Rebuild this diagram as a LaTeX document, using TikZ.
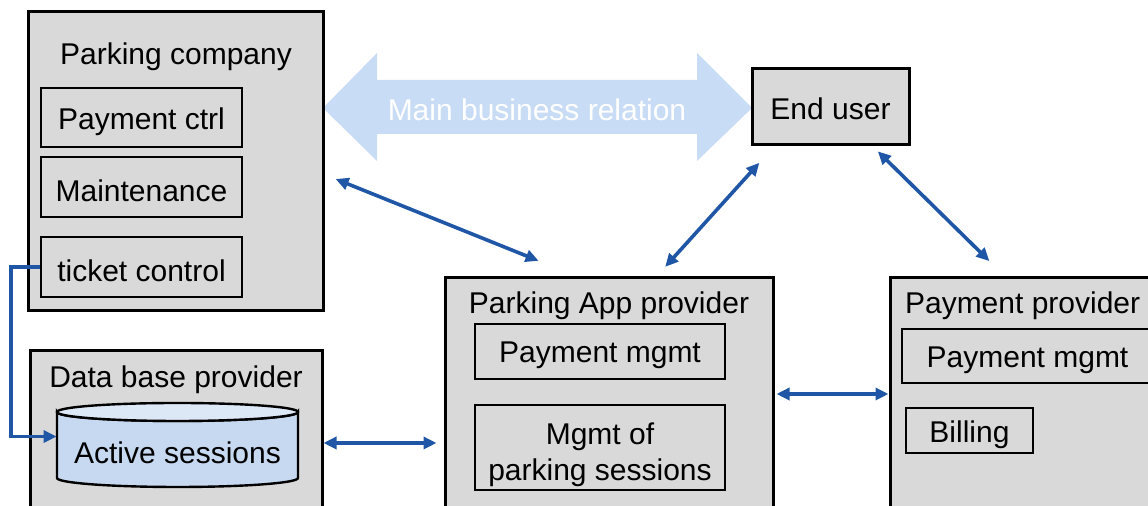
\documentclass[tikz,border=0pt]{standalone}
\usepackage{fontspec}
\setmainfont{Liberation Sans}
\usepackage{tikz}
\usetikzlibrary{arrows.meta,fit}

\definecolor{boxgray}{HTML}{D9D9D9}
\definecolor{linkblue}{HTML}{1F56A6}
\definecolor{relblue}{HTML}{C9DCF5}
\definecolor{cylbody}{HTML}{C6D9F1}
\definecolor{cyltop}{HTML}{DDE8F7}

\tikzset{
  mainbox/.style={draw=black, line width=1.5pt, fill=boxgray, inner sep=0pt},
  subbox/.style={draw=black, line width=1.2pt, fill=boxgray, inner sep=0pt},
  link/.style={draw=linkblue, line width=1.8pt, arrows={Triangle[length=6.5pt,width=6pt]-Triangle[length=6.5pt,width=6pt]}},
}

\begin{document}
\begin{tikzpicture}[x=0.5pt, y=-0.5pt, font=\fontsize{15}{18}\selectfont]
	\useasboundingbox (0,0) rectangle (1148,506);

	% main business relation
	\fill[relblue] (323,108) -- (377,53) -- (377,80) -- (697,80) -- (697,53) -- (752,108)
		-- (697,161) -- (697,134) -- (377,134) -- (377,161) -- cycle;
	\node[white] (rel) at (537,110) {Main business relation};

	% parking company
	\node[mainbox, fit={(28,12) (323,311)}] (pc) {};
	\node (pctitle) at (176,57) {Parking company};
	\node[subbox, fit={(41,88) (242,147)}] (payctrl) {};
	\node at ([yshift=-2pt]payctrl.center) {Payment ctrl};
	\node[subbox, fit={(41,157) (242,217)}] (maint) {};
	\node at ([yshift=-2pt]maint.center) {Maintenance};
	\node[subbox, fit={(41,237) (242,297)}] (ticket) {};
	\node at ([yshift=-2pt]ticket.center) {ticket control};

	% end user
	\node[mainbox, fit={(752,69) (909,145)}] (eu) {};
	\node at ([yshift=-1pt]eu.center) {End user};

	% data base provider
	\node[mainbox, fit={(30,351) (322,535)}] (db) {};
	\node (dbtitle) at (176,380) {Data base provider};
	\filldraw[fill=cylbody, line width=1.2pt] (57,412) -- (57,478)
		arc[start angle=180, end angle=0, x radius=120.5, y radius=9] -- (298,412)
		arc[start angle=0, end angle=180, x radius=120.5, y radius=9] -- cycle;
	\filldraw[fill=cyltop, line width=1.2pt] (177.5,412) ellipse[x radius=120.5, y radius=9];
	\node[inner sep=0pt, fit={(57,403) (298,487)}] (sess) {};
	\node at (177.5,453) {Active sessions};

	% parking app provider
	\node[mainbox, fit={(445,278) (773,510)}] (app) {};
	\node (apptitle) at (609,306) {Parking App provider};
	\node[subbox, fit={(475,324) (725,379)}] (apppay) {};
	\node at ([yshift=-2pt]apppay.center) {Payment mgmt};
	\node[subbox, fit={(475,405) (725,490)}] (appsess) {};
	\node[align=center] at ([yshift=-3.5pt]appsess.center) {Mgmt of\\parking sessions};

	% payment provider
	\node[mainbox, fit={(890,278) (1170,510)}] (pp) {};
	\node[anchor=west] (pptitle) at (898,306) {Payment provider};
	\node[subbox, fit={(902,329) (1153,383)}] (pppay) {};
	\node at ([yshift=-2pt]pppay.center) {Payment mgmt};
	\node[subbox, fit={(906,408) (1033,453)}] (bill) {};
	\node at ([yshift=-2pt]bill.center) {Billing};

	% connectors
	\draw[link, shorten <=6pt, shorten >=21pt] (pc.-5) -- (app.105);
	\draw[link, shorten <=6.5pt, shorten >=11pt] (app.68) -- (eu.215);
	\draw[link, shorten <=3.5pt, shorten >=11pt] (eu.-43) -- (pp.102);
	\draw[link, shorten <=1pt] (app.east) -- (pp.west);
	\draw[link, shorten >=3.5pt] (db.east) -- (app.west |- db.east);
	\draw[link, arrows={-Triangle[length=6.5pt,width=6pt]}] (ticket.west) -- ++(-29,0) |- (sess.176);
\end{tikzpicture}
\end{document}
